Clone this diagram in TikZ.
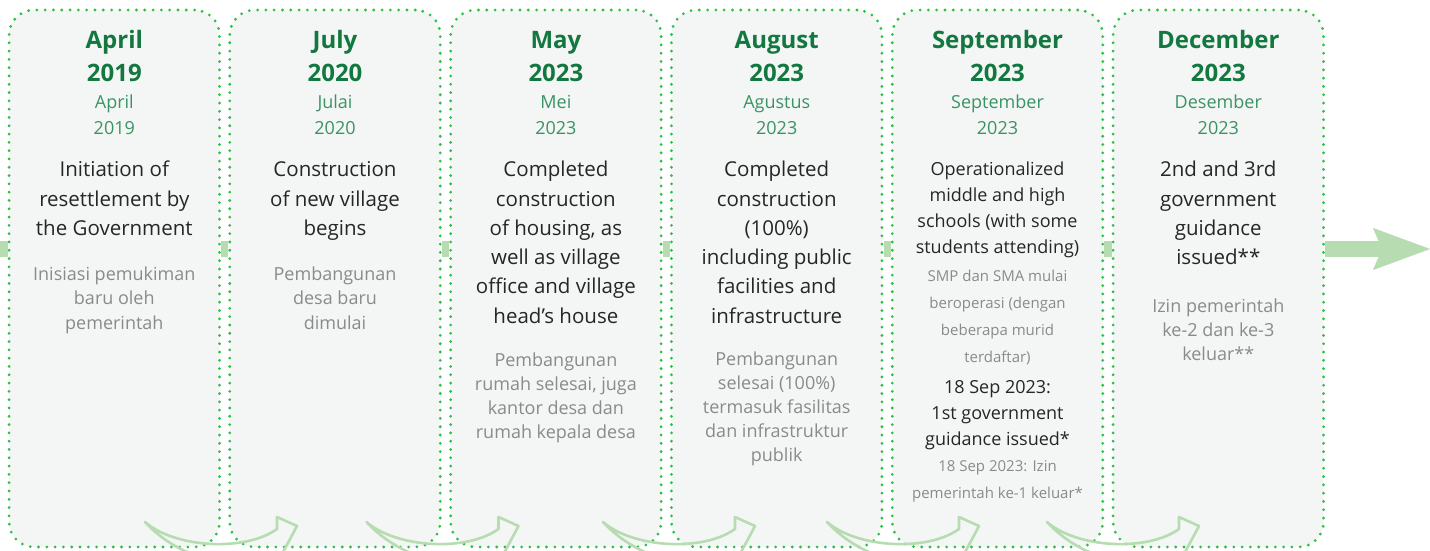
\documentclass[tikz,border=0pt]{standalone}
\usepackage{fontspec}
\setmainfont{Open Sans}
\usetikzlibrary{arrows.meta}

\definecolor{dotgreen}{HTML}{2EBF46}
\definecolor{boxfill}{HTML}{F4F6F5}
\definecolor{titlegreen}{HTML}{12783F}
\definecolor{subgreen}{HTML}{3A9364}
\definecolor{bodytext}{HTML}{262626}
\definecolor{notegray}{HTML}{8A8A8A}
\definecolor{lightgreen}{HTML}{B7DCB1}

\begin{document}
\begin{tikzpicture}[x=1pt, y=-1pt,
  box/.style={draw=dotgreen, fill=boxfill, rounded corners=25pt, line width=3.1pt,
    dash pattern=on 0pt off 8.3pt, line cap=round, minimum width=210.5pt,
    minimum height=537pt, inner sep=0pt},
  title/.style={anchor=base, inner sep=0pt, text=titlegreen, font=\fontsize{24}{28}\selectfont\bfseries},
  sub/.style={anchor=base, inner sep=0pt, text=subgreen, font=\fontsize{18}{22}\selectfont},
  body/.style={anchor=base, inner sep=0pt, text=bodytext, font=\fontsize{20.5}{24}\selectfont},
  smallbody/.style={anchor=base, inner sep=0pt, text=bodytext, font=\fontsize{18}{22}\selectfont},
  note/.style={anchor=base, inner sep=0pt, text=notegray, font=\fontsize{18}{22}\selectfont},
  smallnote/.style={anchor=base, inner sep=0pt, text=notegray, font=\fontsize{15}{18}\selectfont},
  link/.style={draw=lightgreen, line width=15.5pt},
  swoosh/.style={draw=lightgreen, line width=2.6pt, line join=round}]

\useasboundingbox (0,0) rectangle (1430,551);
\coordinate (mid) at (0,249);
\coordinate (end) at (1430,249);

% boxes
\node[box] (apr19) at (114.3,278.5) {};
\node[box] (jul20) at (335,278.5) {};
\node[box] (may23) at (555.9,278.5) {};
\node[box] (aug23) at (776.7,278.5) {};
\node[box] (sep23) at (997.5,278.5) {};
\node[box] (dec23) at (1218.3,278.5) {};

% links between the boxes
\draw[link] (mid) -- (apr19.west |- mid);
\draw[link] (apr19.east |- mid) -- (jul20.west |- mid);
\draw[link] (jul20.east |- mid) -- (may23.west |- mid);
\draw[link] (may23.east |- mid) -- (aug23.west |- mid);
\draw[link] (aug23.east |- mid) -- (sep23.west |- mid);
\draw[link] (sep23.east |- mid) -- (dec23.west |- mid);
\draw[link, -{Stealth[length=57pt, width=42pt, inset=9pt, line width=0.1pt]}] (dec23.east |- mid) -- (end);

% April 2019
\foreach \t [count=\i] in {April,2019}
  \node[title] (apr19-h\i) at (114.3,{48.3+33*(\i-1)}) {\t};
\foreach \t [count=\i] in {April,2019}
  \node[sub] (apr19-s\i) at (114.3,{108.3+26*(\i-1)}) {\t};
\foreach \t [count=\i] in {Initiation of,resettlement by,the Government}
  \node[body] (apr19-b\i) at (114.3,{176.7+29.3*(\i-1)}) {\t};
\foreach \t [count=\i] in {Inisiasi pemukiman,baru oleh,pemerintah}
  \node[note] (apr19-n\i) at (114.3,{280+24.5*(\i-1)}) {\t};

% July 2020
\foreach \t [count=\i] in {July,2020}
  \node[title] (jul20-h\i) at (335,{48.3+33*(\i-1)}) {\t};
\foreach \t [count=\i] in {Julai,2020}
  \node[sub] (jul20-s\i) at (335,{108.3+26*(\i-1)}) {\t};
\foreach \t [count=\i] in {Construction,of new village,begins}
  \node[body] (jul20-b\i) at (335,{176.7+29.3*(\i-1)}) {\t};
\foreach \t [count=\i] in {Pembangunan,desa baru,dimulai}
  \node[note] (jul20-n\i) at (335,{280+24.5*(\i-1)}) {\t};

% May 2023
\foreach \t [count=\i] in {May,2023}
  \node[title] (may23-h\i) at (555.9,{48.3+33*(\i-1)}) {\t};
\foreach \t [count=\i] in {Mei,2023}
  \node[sub] (may23-s\i) at (555.9,{108.3+26*(\i-1)}) {\t};
\foreach \t [count=\i] in {Completed,construction,{of housing, as},well as village,office and village,head’s house}
  \node[body] (may23-b\i) at (555.9,{176.7+29.3*(\i-1)}) {\t};
\foreach \t [count=\i] in {Pembangunan,{rumah selesai, juga},kantor desa dan,rumah kepala desa}
  \node[note] (may23-n\i) at (555.9,{366+24.2*(\i-1)}) {\t};

% August 2023
\foreach \t [count=\i] in {August,2023}
  \node[title] (aug23-h\i) at (776.7,{48.3+33*(\i-1)}) {\t};
\foreach \t [count=\i] in {Agustus,2023}
  \node[sub] (aug23-s\i) at (776.7,{108.3+26*(\i-1)}) {\t};
\foreach \t [count=\i] in {Completed,construction,(100\%),including public,facilities and,infrastructure}
  \node[body] (aug23-b\i) at (776.7,{176.7+29.3*(\i-1)}) {\t};
\foreach \t [count=\i] in {Pembangunan,selesai (100\%),termasuk fasilitas,dan infrastruktur,publik}
  \node[note] (aug23-n\i) at (776.7,{365+24.2*(\i-1)}) {\t};

% September 2023
\foreach \t [count=\i] in {September,2023}
  \node[title] (sep23-h\i) at (997.5,{48.3+33*(\i-1)}) {\t};
\foreach \t [count=\i] in {September,2023}
  \node[sub] (sep23-s\i) at (997.5,{108.3+26*(\i-1)}) {\t};
\foreach \t [count=\i] in {Operationalized,middle and high,schools (with some,students attending)}
  \node[smallbody] (sep23-b\i) at (997.5,{175+26*(\i-1)}) {\t};
\foreach \t [count=\i] in {SMP dan SMA mulai,beroperasi (dengan,beberapa murid,terdaftar)}
  \node[smallnote] (sep23-n\i) at (997.5,{281.5+27*(\i-1)}) {\t};
\foreach \t [count=\i] in {18 Sep 2023:,1st government,guidance issued*}
  \node[smallbody] (sep23-g\i) at (997.5,{393.3+26*(\i-1)}) {\t};
\foreach \t [count=\i] in {18 Sep 2023: Izin,pemerintah ke-1 keluar*}
  \node[smallnote] (sep23-m\i) at (997.5,{471.7+26.7*(\i-1)}) {\t};

% December 2023
\foreach \t [count=\i] in {December,2023}
  \node[title] (dec23-h\i) at (1218.3,{48.3+33*(\i-1)}) {\t};
\foreach \t [count=\i] in {Desember,2023}
  \node[sub] (dec23-s\i) at (1218.3,{108.3+26*(\i-1)}) {\t};
\foreach \t [count=\i] in {2nd and 3rd,government,guidance,issued**}
  \node[body] (dec23-b\i) at (1218.3,{176.7+29.3*(\i-1)}) {\t};
\foreach \t [count=\i] in {Izin pemerintah,ke-2 dan ke-3,keluar**}
  \node[note] (dec23-n\i) at (1218.3,{312+24.3*(\i-1)}) {\t};

% curved arrows along the bottom
\begin{scope}
  \clip (0,0) rectangle (1430,551);
  \foreach \sx in {145,366.5,603,827,1047}
    \draw[swoosh, shift={(\sx,0)}] (0,522) .. controls (30,548) and (100,552) .. (132,529)
      -- (132,517) -- (152,526) -- (136,556) .. controls (95,575) and (35,560) .. cycle;
\end{scope}
\end{tikzpicture}
\end{document}
